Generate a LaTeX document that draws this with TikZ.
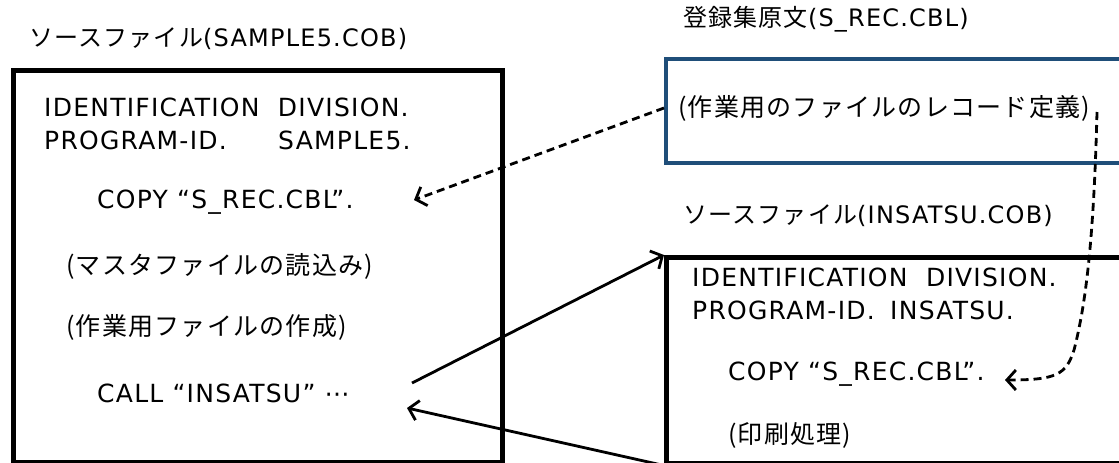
\documentclass[tikz,border=0pt]{standalone}
\usepackage{fontspec}
\setmainfont[LetterSpace=5]{DejaVu Sans}
\newfontfamily\jp[LetterSpace=5]{Noto Sans CJK JP}
\usetikzlibrary{arrows.meta}
\definecolor{boxblue}{HTML}{1F4E79}
\begin{document}
\begin{tikzpicture}[x=1pt,y=-1pt,
  ttl/.style={anchor=west, inner sep=0pt, font=\fontsize{24}{28}\selectfont},
  txt/.style={anchor=west, inner sep=0pt, font=\fontsize{25}{29}\selectfont},
  filebox/.style={draw=black, line width=4.5pt, anchor=north west, inner sep=0pt},
  recbox/.style={draw=boxblue, line width=4pt, anchor=north west, inner sep=0pt},
  link/.style={line width=2.8pt, -{Straight Barb[length=9pt,width=20pt,line width=2.8pt]}},
  dlink/.style={link, dash pattern=on 8pt off 5pt}]
\useasboundingbox (0,0) rectangle (1119,463);
\fill[white] (0,0) rectangle (1119,463);
\clip (0,0) rectangle (1119,463);

% boxes
\node[filebox, minimum width=489pt, minimum height=392pt] (lbox) at (11,68) {};
\node[recbox, minimum width=480pt, minimum height=104pt] (bbox) at (664,57) {};
\node[filebox, minimum width=480pt, minimum height=206pt] (rbox) at (664,255) {};

% titles
\node[ttl] (ltitle) at (29,39) {{\jp ソースファイル}(SAMPLE5.COB)};
\node[ttl] (btitle) at (683,19) {{\jp 登録集原文}(S\_REC.CBL)};
\node[ttl] (rtitle) at (683,216) {{\jp ソースファイル}(INSATSU.COB)};

% left box contents
\node[txt] (lid) at (44,107) {IDENTIFICATION~ DIVISION.};
\node[txt] (lpid) at (44,140) {\makebox[234pt][l]{PROGRAM-ID.}SAMPLE5.};
\node[txt] (lcopy) at (97,202) {COPY “S\_REC.CBL”.};
\node[txt] (lread) at (66,266) {\jp (マスタファイルの読込み)};
\node[txt] (lmake) at (66,327) {\jp (作業用ファイルの作成)};
\node[txt] (lcall) at (97,393) {CALL “INSATSU” ⋯};

% record box contents
\node[txt] (brec) at (678,108) {\jp (作業用のファイルのレコード定義)};

% right box contents
\node[txt] (rid) at (692,277) {IDENTIFICATION~ DIVISION.};
\node[txt] (rpid) at (692,310) {\makebox[198pt][l]{PROGRAM-ID.}INSATSU.};
\node[txt] (rcopy) at (728,374) {COPY “S\_REC.CBL”.};
\node[txt] (rprint) at (728,435) {\jp (印刷処理)};

% connector end points
\coordinate (d1s) at (bbox.north west |- brec);
\coordinate (d1e) at (414,200);
\coordinate (d2s) at (1097,112);
\coordinate (d2e) at (1005,380);
\coordinate (c1s) at (412,383);
\coordinate (c2e) at (407,408);

% connectors
\draw[dlink] (d1s) -- (d1e);
\draw[dlink] (d2s) .. controls (1094,230) and (1087,300) .. (1074,350)
  .. controls (1066,375) and (1056,380) .. (d2e);
\draw[link] (c1s) -- (rbox.north west);
\draw[link] (rbox.south west) -- (c2e);
\end{tikzpicture}
\end{document}
